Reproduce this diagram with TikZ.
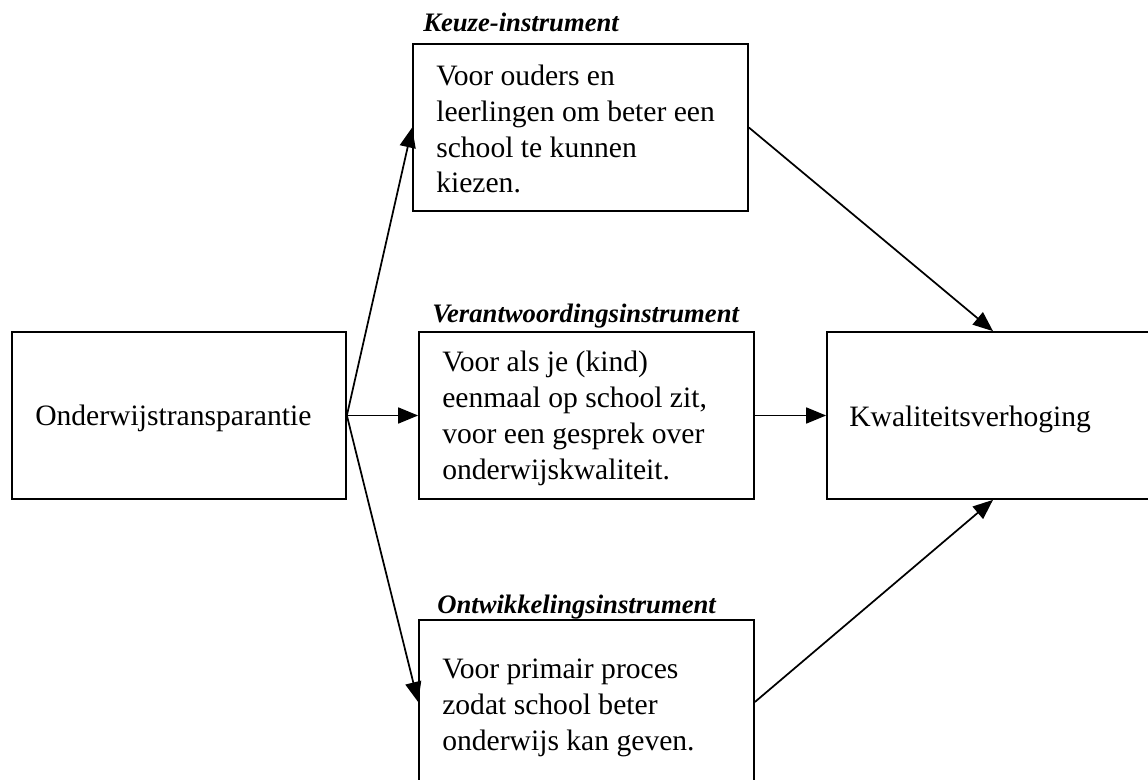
\documentclass[tikz,border=0pt]{standalone}
\usepackage{fontspec}
\setmainfont{Liberation Serif}
\usetikzlibrary{arrows.meta,calc}
\begin{document}
\begin{tikzpicture}[x=0.75pt,y=-0.75pt,
  box/.style={draw,line width=1.3pt,rectangle,inner sep=0pt,minimum width=251.25pt,minimum height=125.25pt},
  body/.style={anchor=base west,inner sep=0pt,align=left,font=\fontsize{22.2}{26.8}\selectfont},
  title/.style={anchor=base west,inner sep=0pt,font=\fontsize{20}{24}\selectfont\bfseries\itshape},
  conn/.style={line width=1.3pt,-{Triangle[length=15pt,width=12pt]}}]
\useasboundingbox (0,0) rectangle (1148,780);
\clip (0,0) rectangle (1148,780);
\node[box,minimum width=250.5pt] (src) at (179,415.5) {};
\node[box] (keuze) at (580.5,127.5) {};
\node[box] (verant) at (586.5,415.5) {};
\node[box,minimum height=123pt] (ontw) at (586.5,702) {};
\node[box,minimum width=249pt] (kwal) at (993,415.5) {};
\node[body] (srct) at (35,425) {Onderwijstransparantie};
\node[body] (kwalt) at (849,426) {Kwaliteitsverhoging};
\node[title] (keuzeh) at (423,32) {Keuze-instrument};
\node[title] (veranth) at (432,322) {Verantwoordingsinstrument};
\node[title] (ontwh) at (437,613) {Ontwikkelingsinstrument};
\node[body] (keuzet) at (436,193) {Voor ouders en\\leerlingen om beter een\\school te kunnen\\kiezen.};
\node[body] (verantt) at (442,479) {Voor als je (kind)\\eenmaal op school zit,\\voor een gesprek over\\onderwijskwaliteit.};
\node[body] (ontwt) at (442,750) {Voor primair proces\\zodat school beter\\onderwijs kan geven.};
\draw[conn] (src.east) -- (keuze.west);
\draw[conn] (src.east) -- (verant.west);
\draw[conn] (src.east) -- (ontw.west);
\draw[conn] (keuze.east) -- (kwal.north);
\draw[conn] (verant.east) -- (kwal.west);
\draw[conn] (ontw.east) -- (kwal.south);
\end{tikzpicture}
\end{document}
